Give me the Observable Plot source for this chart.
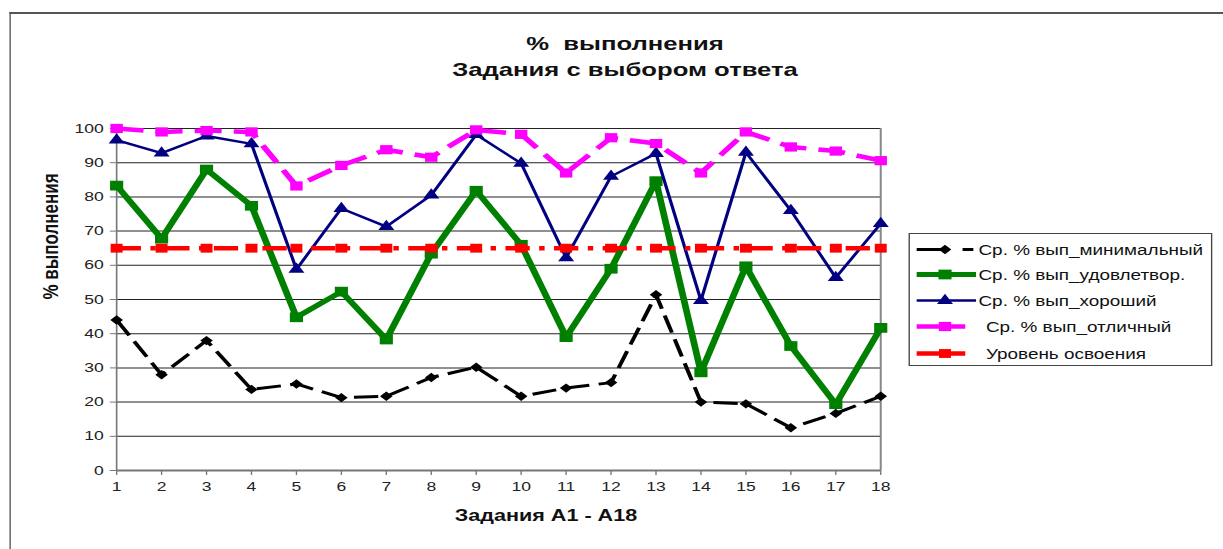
<!DOCTYPE html>
<html>
<head>
<meta charset="utf-8">
<script src="https://cdn.jsdelivr.net/npm/d3@7"></script>
<script src="https://cdn.jsdelivr.net/npm/@observablehq/plot@0.6"></script>
<style>
  html, body { margin: 0; padding: 0; background: #fff; overflow: hidden; }
  body { width: 1223px; height: 549px; position: relative; font-family: "Liberation Sans", Arial, sans-serif; }
  #wrap { position: absolute; left: 0; top: 0; width: 906px; height: 549px; transform: scaleX(1.35); transform-origin: 0 0; }
  #frame { position: absolute; left: 7.4px; top: 12px; width: 1000px; height: 600px; border-left: 1.5px solid #555; border-top: 2px solid #555; }
  #title { position: absolute; left: 0; top: 31px; width: 926px; text-align: center; font-weight: bold; font-size: 19px; line-height: 26px; color: #111; }
  #chart { position: absolute; left: 0; top: 100px; }
  #legend { position: absolute; left: 673.3px; top: 233px; width: 225px; height: 133px; border: 1px solid #444; box-sizing: border-box; background: #fff; }
  .row { position: absolute; left: 0; height: 20px; font-size: 14px; color: #111; white-space: nowrap; }
  .row svg { position: absolute; left: 0; top: 0; }
  .row span { position: absolute; top: 2px; }
</style>
</head>
<body>
<div id="wrap">
  <div id="frame"></div>
  <div id="title">%&nbsp; выполнения<br>Задания с выбором ответа</div>
  <div id="chart"></div>
  <div id="legend"></div>
</div>
<script>
const tasks = [1, 2, 3, 4, 5, 6, 7, 8, 9, 10, 11, 12, 13, 14, 15, 16, 17, 18];
const minimal   = [44, 28, 38, 23.7, 25.3, 21.3, 21.7, 27.2, 30.2, 21.7, 24.1, 25.7, 51.4, 20, 19.5, 12.5, 16.7, 21.7];
const satisf    = [83.3, 67.8, 88, 77.4, 44.8, 52.3, 38.3, 63.4, 81.8, 66, 39, 59, 84.6, 28.7, 59.7, 36.4, 19.4, 41.7];
const good      = [96.6, 92.8, 97.8, 95.5, 58.8, 76.6, 71.3, 80.5, 98.2, 89.8, 62.2, 86, 92.7, 49.7, 93, 76, 56.4, 72.2];
const excellent = [100, 99, 99.4, 99, 83.2, 89.2, 93.8, 91.6, 99.6, 98.3, 87, 97.3, 95.6, 87, 99, 94.6, 93.4, 90.6];
const level     = [65, 65, 65, 65, 65, 65, 65, 65, 65, 65, 65, 65, 65, 65, 65, 65, 65, 65];
const yTicks = [0, 10, 20, 30, 40, 50, 60, 70, 80, 90, 100];
const seriesNames = ["Ср. % вып_минимальный", "Ср. % вып_удовлетвор.", "Ср. % вып_хороший", "Ср. % вып_отличный", "Уровень освоения"];
const yLabel = "% выполнения";
const xLabel = "Задания А1 - А18";

const rows = arr => tasks.map((t, i) => ({task: t, v: arr[i]}));

const styles = [
  {data: minimal,   color: "#000000", width: 3,   dash: "18,7",      symbol: "diamond2", r: 4.2},
  {data: satisf,    color: "#008000", width: 5,   dash: null,        symbol: "square",   r: 5.5},
  {data: good,      color: "#000080", width: 2.4, dash: null,        symbol: "triangle", r: 4.4},
  {data: excellent, color: "#FF00FF", width: 4.5, dash: "20,9",      symbol: "square",   r: 5.2},
  {data: level,     color: "#FF0000", width: 4.5, dash: "18,7,4,7",  symbol: "square",   r: 5}
];

const marks = [
  Plot.gridY(yTicks, {stroke: "#222", strokeOpacity: 1, strokeWidth: 1}),
  Plot.ruleX([18], {stroke: "#888", strokeWidth: 1.5}),
  Plot.ruleX([1], {stroke: "#777", strokeWidth: 1.2}),
  Plot.ruleY([0], {stroke: "#777", strokeWidth: 2}),
  Plot.axisX({ticks: tasks, tickSize: 5, tickPadding: 6, stroke: "#777", label: null, fontSize: 13, fill: "#222"}),
  Plot.axisY({ticks: yTicks, tickSize: 4.5, tickPadding: 5, stroke: "#777", label: null, fontSize: 13, fill: "#222"}),
  Plot.text([yLabel], {text: d => d, frameAnchor: "left", dx: -49, rotate: -90, fontWeight: "bold", fontSize: 17, fill: "#111"}),
  Plot.text([xLabel], {text: d => d, frameAnchor: "bottom", dx: 35, dy: 50, fontWeight: "bold", fontSize: 16, fill: "#111"})
];
for (const s of styles) {
  const d = rows(s.data);
  marks.push(Plot.line(d, {x: "task", y: "v", stroke: s.color, strokeWidth: s.width, strokeDasharray: s.dash, strokeLinejoin: "miter", strokeLinecap: "butt"}));
  marks.push(Plot.dot(d, {x: "task", y: "v", symbol: () => s.symbol, r: s.r, fill: s.color, stroke: "none"}));
}

const chart = Plot.plot({
  width: 680,
  height: 440,
  marginLeft: 85.9,
  marginRight: 28.1,
  marginTop: 28,
  marginBottom: 70,
  style: {fontFamily: "'Liberation Sans', Arial, sans-serif", fontSize: "13px", color: "#222", background: "transparent", overflow: "visible"},
  x: {type: "linear", domain: [1, 18]},
  y: {domain: [0, 100]},
  symbol: {type: "identity"},
  marks
});
document.getElementById("chart").appendChild(chart);

// Legend
const legend = document.getElementById("legend");
const rowTops = [6, 31, 57, 83, 110];
styles.forEach((s, i) => {
  const row = document.createElement("div");
  row.className = "row";
  row.style.top = rowTops[i] + "px";
  row.style.width = "224px";
  const svg = d3.create("svg").attr("width", 52).attr("height", 20);
  const cy = 9.5;
  if (i === 0) {
    svg.append("line").attr("x1", 5).attr("x2", 25).attr("y1", cy).attr("y2", cy).attr("stroke", s.color).attr("stroke-width", s.width);
    svg.append("line").attr("x1", 39).attr("x2", 47).attr("y1", cy).attr("y2", cy).attr("stroke", s.color).attr("stroke-width", s.width);
  } else if (i <= 2) {
    svg.append("line").attr("x1", 5).attr("x2", 49).attr("y1", cy).attr("y2", cy).attr("stroke", s.color).attr("stroke-width", s.width);
  } else {
    svg.append("line").attr("x1", 5).attr("x2", 41).attr("y1", cy).attr("y2", cy).attr("stroke", s.color).attr("stroke-width", s.width);
  }
  const symMap = {diamond2: d3.symbolDiamond2, square: d3.symbolSquare, triangle: d3.symbolTriangle};
  svg.append("path")
    .attr("d", d3.symbol(symMap[s.symbol], Math.PI * s.r * s.r)())
    .attr("transform", `translate(26,${cy})`)
    .attr("fill", s.color);
  row.appendChild(svg.node());
  const span = document.createElement("span");
  span.textContent = seriesNames[i];
  span.style.left = (i >= 3 ? 56 : 50.5) + "px";
  row.appendChild(span);
  legend.appendChild(row);
});
</script>
</body>
</html>
